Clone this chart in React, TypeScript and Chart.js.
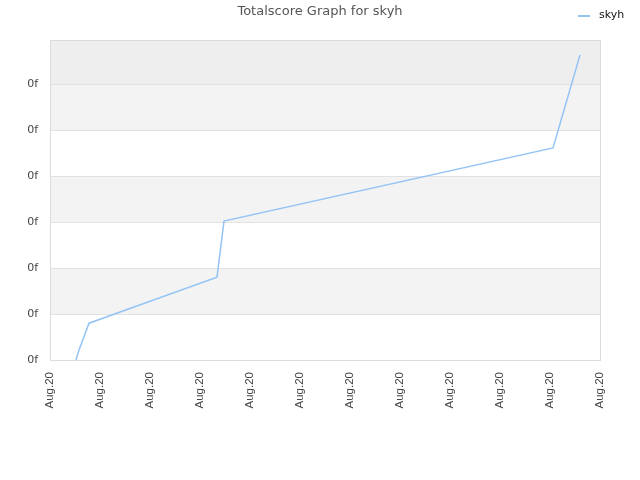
import React, { useEffect, useRef } from "react";
import { Chart, registerables } from "chart.js";

Chart.register(...registerables);

const TITLE = "Totalscore Graph for skyh";
const SERIES_NAME = "skyh";
const X_TICK_LABEL = "Aug.20";
const Y_TICK_LABEL = "0f";
const xValues = [0.52, 0.58, 0.78, 3.34, 3.48, 10.06, 10.6];
const yValues = [0, 0.22, 0.8, 1.8, 3.02, 4.61, 6.63];
const bandColors = ["#ffffff", "#f3f3f3", "#ffffff", "#f3f3f3", "#ffffff", "#f3f3f3", "#eeeeee"];
const LINE_COLOR = "#94c4f5";

export default function App() {
  const ref = useRef<HTMLCanvasElement | null>(null);
  useEffect(() => {
    if (!ref.current) return;
    const bandsPlugin = {
      id: "bands",
      beforeDatasetsDraw(chart: any) {
        const { ctx, chartArea, scales } = chart;
        const y = scales.y;
        ctx.save();
        for (let i = 0; i < bandColors.length; i++) {
          const top = Math.max(y.getPixelForValue(i + 1), chartArea.top);
          const bottom = y.getPixelForValue(i);
          ctx.fillStyle = bandColors[i];
          ctx.fillRect(chartArea.left, top, chartArea.right - chartArea.left, bottom - top);
        }
        ctx.strokeStyle = "#e2e2e2";
        ctx.lineWidth = 1;
        for (let i = 1; i <= 6; i++) {
          const py = Math.round(y.getPixelForValue(i)) + 0.5;
          ctx.beginPath();
          ctx.moveTo(chartArea.left, py);
          ctx.lineTo(chartArea.right, py);
          ctx.stroke();
        }
        ctx.strokeStyle = "#dcdcdc";
        ctx.strokeRect(chartArea.left + 0.5, chartArea.top + 0.5, chartArea.right - chartArea.left, chartArea.bottom - chartArea.top);
        ctx.restore();
      },
      afterDraw(chart: any) {
        const { ctx } = chart;
        ctx.save();
        ctx.font = "13px 'DejaVu Sans'";
        ctx.fillStyle = "#555";
        ctx.textAlign = "center";
        ctx.textBaseline = "middle";
        ctx.fillText(TITLE, 320, 12);
        ctx.strokeStyle = LINE_COLOR;
        ctx.lineWidth = 2;
        ctx.beginPath();
        ctx.moveTo(578, 16);
        ctx.lineTo(590, 16);
        ctx.stroke();
        ctx.font = "11px 'DejaVu Sans'";
        ctx.fillStyle = "#111";
        ctx.textAlign = "left";
        ctx.fillText(SERIES_NAME, 599, 15);
        ctx.restore();
      },
    };
    const chart = new Chart(ref.current, {
      type: "line",
      data: {
        datasets: [
          {
            label: SERIES_NAME,
            data: xValues.map((x, i) => ({ x, y: yValues[i] })),
            borderColor: LINE_COLOR,
            backgroundColor: LINE_COLOR,
            borderWidth: 1.5,
            pointRadius: 0,
            tension: 0,
          },
        ],
      },
      options: {
        animation: false,
        responsive: false,
        layout: { padding: { top: 40, right: 40, left: 0, bottom: 0 } },
        plugins: { legend: { display: false }, title: { display: false }, tooltip: { enabled: false } },
        scales: {
          x: {
            type: "linear",
            min: 0,
            max: 11,
            grid: { display: false, drawTicks: false },
            border: { display: false },
            afterFit(scale: any) {
              scale.height = 120;
            },
            ticks: {
              stepSize: 1,
              autoSkip: false,
              minRotation: 90,
              maxRotation: 90,
              padding: 12,
              color: "#444",
              font: { size: 11.5, family: "'Liberation Sans', Arial, sans-serif" },
              callback: () => X_TICK_LABEL,
            },
          },
          y: {
            type: "linear",
            min: 0,
            max: 320 / 46,
            grid: { display: false, drawTicks: false },
            border: { display: false },
            afterFit(scale: any) {
              scale.width = 50;
            },
            afterBuildTicks(scale: any) {
              scale.ticks = [0, 1, 2, 3, 4, 5, 6].map((v) => ({ value: v }));
            },
            ticks: {
              padding: 12,
              color: "#444",
              font: { size: 11, family: "'DejaVu Sans'" },
              callback: () => Y_TICK_LABEL,
            },
          },
        },
      },
      plugins: [bandsPlugin],
    });
    return () => chart.destroy();
  }, []);
  return (
    <div style={{ position: "fixed", left: 0, top: 0, width: 640, height: 480, background: "#fff" }}>
      <canvas ref={ref} width={640} height={480} style={{ width: 640, height: 480 }} />
    </div>
  );
}
